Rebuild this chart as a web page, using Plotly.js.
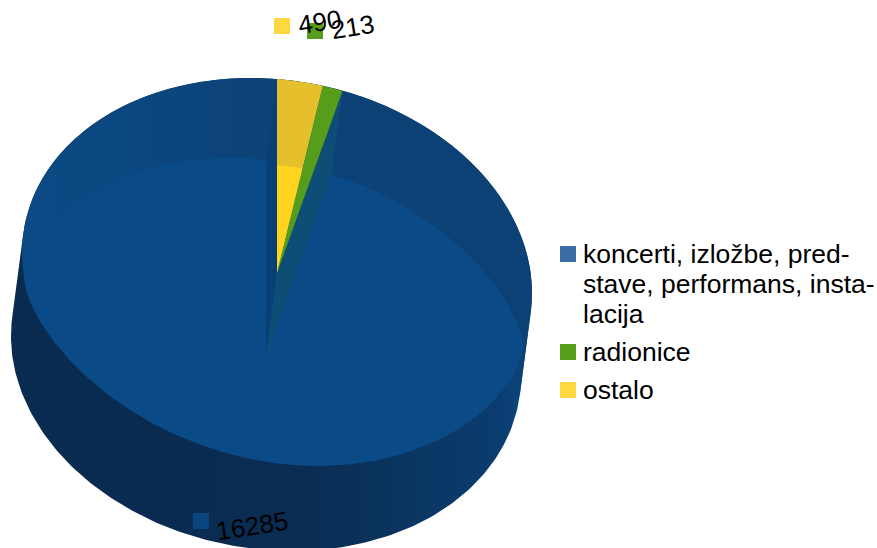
<!DOCTYPE html>
<html><head><meta charset="utf-8">
<script src="https://cdn.plot.ly/plotly-3.0.1.min.js"></script>
<style>html,body{margin:0;padding:0;background:#fff}</style></head>
<body><div id="c" style="width:877px;height:548px"></div>
<script>
const categories=["koncerti, izložbe, pred-|stave, performans, insta-|lacija","radionice","ostalo"];
const seriesValues=[16285,213,490];
const sliceColors=["#0a4a87","#579d1c","#ffd320"];
const legendColors=["#3a6ea5","#579d1c","#ffd840"];

// projection of the tilted disc, in page pixels
const W=877,H=548;
const top3d={cx:277,cy:273},bot3d={cx:266,cy:356},disc={a:255,b:194,s:20,p:1};
const face={cx:273.5,cy:312,a:249.5,b:151,s:34,p:1.25};
const goldFrac=0.557;
const FONT='"Liberation Sans",Arial,sans-serif';

const total=seriesValues.reduce((p,v)=>p+v,0);
const yellowEnd=seriesValues[2]/total*360, greenEnd=(seriesValues[2]+seriesValues[1])/total*360;
const rad=d=>d*Math.PI/180;
function pt(c,g,deg,f){f=f===undefined?1:f;const t=rad(deg);const co=Math.cos(t);
  const k=Math.sign(co)*Math.pow(Math.abs(co),g.p);
  return [c.cx+f*g.a*Math.sin(t), c.cy+f*(-g.b*k+g.s*Math.sin(t))];}
function arc(c,g,d0,d1,f){const n=Math.max(2,Math.ceil(Math.abs(d1-d0)));const out=[];
  for(let i=0;i<=n;i++)out.push(pt(c,g,d0+(d1-d0)*i/n,f));return out;}
function sector(c,g,d0,d1,f){return [[c.cx,c.cy],...arc(c,g,d0,d1,f)];}
const dx=bot3d.cx-top3d.cx,dy=bot3d.cy-top3d.cy;
const tan=Math.atan2(-(dy*disc.a-dx*disc.s),-dx*disc.b)*180/Math.PI;
const tR=tan<0?tan+180:tan;
function poly(points,color,extra){
  const xs=points.map(p=>p[0]),ys=points.map(p=>p[1]);
  return Object.assign({type:'scatter',mode:'lines',x:[...xs,xs[0]],y:[...ys,ys[0]],fill:'toself',
    fillcolor:color,line:{width:0,color:color},showlegend:false,hoverinfo:'skip'},extra||{});
}
const silhouette=[...arc(top3d,disc,tR-180,tR),...arc(bot3d,disc,tR,tR+180)];
const band=[...arc(top3d,disc,-97,tR),pt(bot3d,disc,tR),pt(top3d,disc,0,0)];
const faceShape=arc(face,face,0,360);
const leftWall=[[top3d.cx,top3d.cy],pt(top3d,disc,0),pt(bot3d,disc,0),[bot3d.cx,bot3d.cy]];
const rightWall=[[top3d.cx,top3d.cy],pt(top3d,disc,greenEnd),pt(bot3d,disc,greenEnd),[bot3d.cx,bot3d.cy]];

const traces=[
 poly(silhouette,"#0a2f58",{fillgradient:{type:'horizontal',colorscale:[[0,"#092b50"],[0.55,"#0a2c52"],[0.8,"#0a3764"],[0.94,"#0b3c70"],[1,"#0b4a85"]]}}),
 poly(band,"#0c4175",{fillgradient:{type:'horizontal',colorscale:[[0,"#0b4a85"],[0.2,"#0b4780"],[0.5,"#0c4277"],[1,"#0c4175"]]}}),
 poly(faceShape,sliceColors[0]),
 poly(leftWall,"#074076"),
 poly(rightWall,"#0e4e76"),
 poly(sector(top3d,disc,0,yellowEnd),"#e6bf2c"),
 poly(sector(top3d,disc,0,yellowEnd,goldFrac),sliceColors[2]),
 poly(sector(top3d,disc,yellowEnd,greenEnd),sliceColors[1])
];

// value labels with their little key squares, then the legend keys
const labelSpots=[{i:0,kx:201,ky:521,tx:252,ty:526,key:"#0a4580"},{i:1,kx:315,ky:31,tx:352,ty:27,key:sliceColors[1]},{i:2,kx:282,ky:26,tx:319,ty:22,key:"#ffd840"}];
const legendSpots=[{x:568,y:254,tx:583,dy:30},{x:568,y:352,tx:583,dy:0},{x:568,y:390,tx:583,dy:0}];
traces.push({type:'scatter',mode:'markers',x:[...labelSpots.map(l=>l.kx),...legendSpots.map(l=>l.x)],y:[...labelSpots.map(l=>l.ky),...legendSpots.map(l=>l.y)],
  marker:{symbol:'square',size:16,color:[...labelSpots.map(l=>l.key),...legendColors]},showlegend:false,hoverinfo:'skip'});
const annotations=labelSpots.map(l=>({x:l.tx,y:l.ty,xref:'x',yref:'y',text:String(seriesValues[l.i]),showarrow:false,
  textangle:-9,font:{family:FONT,size:26,color:'#000'},xanchor:'center',yanchor:'middle'}));
categories.forEach((c,i)=>c.split('|').forEach((line,j)=>annotations.push({x:legendSpots[i].tx,y:legendSpots[i].y+j*legendSpots[i].dy,xref:'x',yref:'y',
  text:line,showarrow:false,font:{family:FONT,size:26.5,color:'#000'},xanchor:'left',yanchor:'middle',xshift:-2})));

const layout={width:W,height:H,margin:{l:0,r:0,t:0,b:0},paper_bgcolor:'#fff',plot_bgcolor:'#fff',showlegend:false,
 xaxis:{range:[0,W],visible:false,fixedrange:true},yaxis:{range:[H,0],visible:false,fixedrange:true},
 font:{family:FONT,color:'#000'},annotations};
Plotly.newPlot('c',traces,layout,{displayModeBar:false,staticPlot:true});
</script></body></html>
